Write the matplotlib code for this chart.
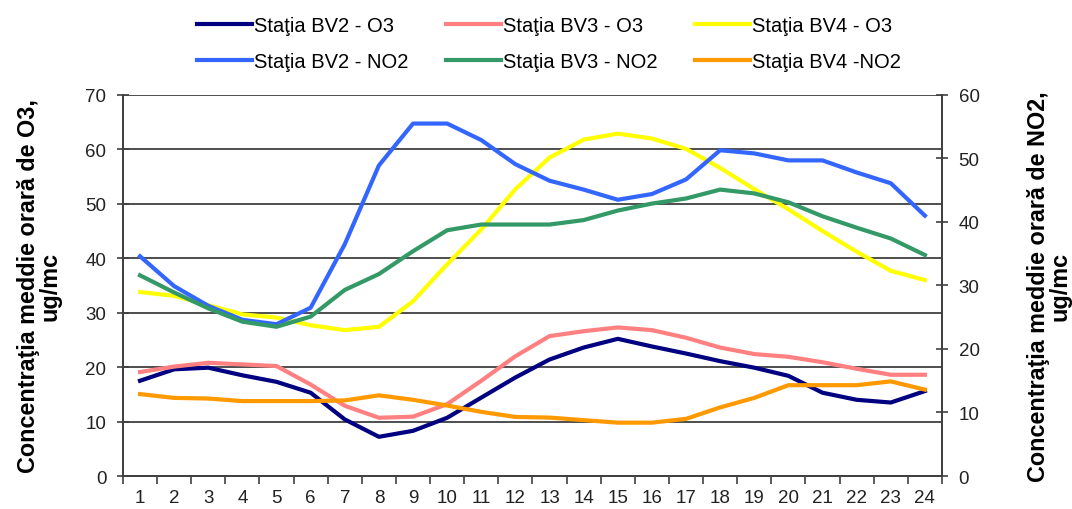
import matplotlib
matplotlib.use('Agg')
import matplotlib.pyplot as plt
from matplotlib.ticker import FixedLocator

plt.rcParams['font.family'] = ['Liberation Sans', 'DejaVu Sans']

# hours of day
HOURS = list(range(1, 25))

# O3 (left axis)
bv2_o3 = [17.5, 19.6, 19.9, 18.5, 17.3, 15.3, 10.4, 7.2, 8.3, 10.7, 14.4, 18.1,
          21.4, 23.6, 25.2, 23.8, 22.5, 21.1, 19.9, 18.4, 15.3, 14.0, 13.5, 15.6]
bv3_o3 = [19.1, 20.1, 20.8, 20.5, 20.2, 16.8, 12.9, 10.7, 10.9, 13.2, 17.5, 22.0,
          25.7, 26.6, 27.3, 26.8, 25.4, 23.6, 22.4, 21.9, 20.9, 19.7, 18.6, 18.6]
bv4_o3 = [33.8, 33.1, 31.4, 29.7, 29.1, 27.7, 26.8, 27.4, 32.1, 38.9, 45.3, 52.7,
          58.5, 61.8, 62.9, 62.0, 60.1, 56.6, 52.7, 49.0, 45.0, 41.2, 37.7, 36.0]

# NO2 (right axis)
bv2_no2 = [34.6, 29.9, 26.8, 24.6, 23.9, 26.5, 36.5, 48.9, 55.5, 55.5, 52.9, 49.1,
           46.5, 45.1, 43.5, 44.4, 46.7, 51.3, 50.8, 49.7, 49.7, 47.8, 46.1, 41.0]
bv3_no2 = [31.6, 28.9, 26.4, 24.3, 23.5, 25.1, 29.3, 31.8, 35.4, 38.7, 39.6, 39.6,
           39.6, 40.3, 41.8, 42.9, 43.7, 45.1, 44.5, 43.1, 40.9, 39.1, 37.4, 34.8]
bv4_no2 = [12.9, 12.3, 12.2, 11.8, 11.8, 11.8, 11.9, 12.7, 12.0, 11.1, 10.1, 9.3,
           9.2, 8.8, 8.4, 8.4, 9.0, 10.8, 12.3, 14.3, 14.3, 14.3, 14.9, 13.6]

GRID = '#404040'
AXC = '#404040'

fig = plt.figure(figsize=(10.72, 5.10), dpi=100)
ax = fig.add_axes([0.1147, 0.0647, 0.7640, 0.7471])
ax2 = ax.twinx()

lw = 3
l1, = ax.plot(HOURS, bv2_o3, color='#000080', lw=lw, label='Staţia BV2 - O3')
l2, = ax.plot(HOURS, bv3_o3, color='#FF8080', lw=lw, label='Staţia BV3 - O3')
l3, = ax.plot(HOURS, bv4_o3, color='#FFFF00', lw=lw, label='Staţia BV4 - O3')
l4, = ax2.plot(HOURS, bv2_no2, color='#3366FF', lw=lw, label='Staţia BV2 - NO2')
l5, = ax2.plot(HOURS, bv3_no2, color='#339966', lw=lw, label='Staţia BV3 - NO2')
l6, = ax2.plot(HOURS, bv4_no2, color='#FF9900', lw=lw, label='Staţia BV4 -NO2')

ax.set_xlim(0.5, 24.5)
ax.set_ylim(0, 70)
ax2.set_ylim(0, 60)
ax.set_yticks(range(0, 71, 10))
ax2.set_yticks(range(0, 61, 10))
ax.set_xticks(HOURS)
ax.xaxis.set_minor_locator(FixedLocator([h + 0.5 for h in range(0, 25)]))
ax.tick_params(axis='x', which='major', length=0, labelsize=13.5, pad=9)
ax.tick_params(axis='x', which='minor', length=6, width=1.2, color=AXC, direction='out')
ax.tick_params(axis='y', length=8, width=1.2, color=AXC, direction='inout',
               labelsize=13.5, pad=8, labelcolor='#222222')
ax2.tick_params(axis='y', length=8, width=1.2, color=AXC, direction='inout',
                labelsize=13.5, pad=8, labelcolor='#222222')
ax.tick_params(axis='x', labelcolor='#222222')

ax.grid(True, axis='y', color=GRID, lw=1.3)
ax.set_axisbelow(True)
for a in (ax, ax2):
    for s in a.spines.values():
        s.set_color(AXC)
        s.set_linewidth(1.3)
    a.spines['top'].set_visible(False)

ax.set_ylabel('Concentraţia meddie orară de O3,\nug/mc', fontsize=16.8,
              fontweight='bold', labelpad=17, linespacing=0.95)
ax2.set_ylabel('Concentraţia meddie orară de NO2,\nug/mc', fontsize=16.8,
               fontweight='bold', rotation=90, labelpad=34, linespacing=0.95)

handles = [l1, l4, l2, l5, l3, l6]
fig.legend(handles, [h.get_label() for h in handles], ncol=3, frameon=False,
           loc='upper center', bbox_to_anchor=(0.512, 1.0), fontsize=14.5,
           handlelength=2.7, handletextpad=0.1, columnspacing=1.9,
           labelspacing=0.85, borderaxespad=0.45)

fig.savefig('out.png', dpi=100)
